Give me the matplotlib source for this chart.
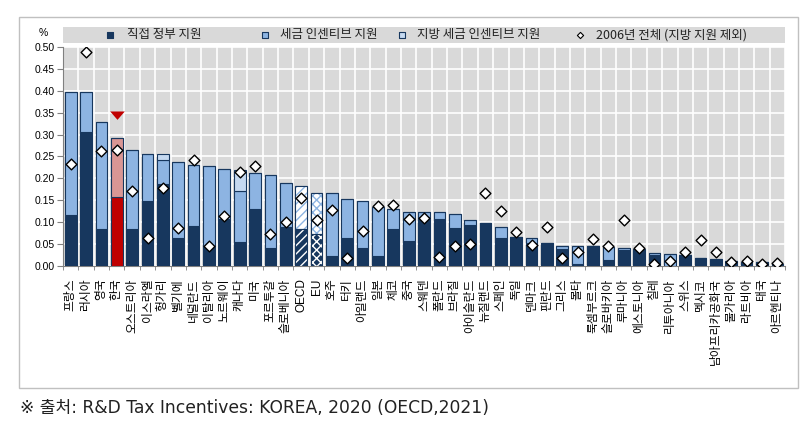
import numpy as np
import matplotlib
matplotlib.use("Agg")
import matplotlib.pyplot as plt
from matplotlib.patches import Rectangle

plt.rcParams['font.family'] = ['Liberation Sans', 'Noto Sans CJK KR', 'DejaVu Sans']
plt.rcParams['hatch.linewidth'] = 1.0

countries = ['프랑스', '러시아', '영국', '한국', '오스트리아', '이스라엘', '헝가리', '벨기에',
             '네덜란드', '이탈리아', '노르웨이', '캐나다', '미국', '포르투갈', '슬로베니아',
             'OECD', 'EU', '호주', '터키', '아일랜드', '일본', '체코', '중국', '스웨덴',
             '폴란드', '브라질', '아이슬란드', '뉴질랜드', '스페인', '독일', '덴마크', '핀란드',
             '그리스', '몰타', '룩셈부르크', '슬로바키아', '루마니아', '에스토니아', '칠레',
             '리투아니아', '스위스', '멕시코', '남아프리카공화국', '불가리아', '라트비아',
             '태국', '아르헨티나']

# % of GDP
direct = [0.116, 0.307, 0.083, 0.158, 0.083, 0.148, 0.186, 0.064, 0.091, 0.044,
          0.106, 0.055, 0.130, 0.041, 0.089, 0.084, 0.073, 0.023, 0.063, 0.040,
          0.022, 0.083, 0.057, 0.111, 0.108, 0.086, 0.094, 0.097, 0.064, 0.066,
          0.051, 0.053, 0.038, 0.003, 0.044, 0.013, 0.036, 0.038, 0.025, 0.000,
          0.025, 0.017, 0.012, 0.011, 0.009, 0.008, 0.005]
tax = [0.282, 0.091, 0.246, 0.134, 0.182, 0.107, 0.056, 0.174, 0.140, 0.184,
       0.115, 0.115, 0.082, 0.167, 0.100, 0.099, 0.093, 0.143, 0.090, 0.107,
       0.113, 0.047, 0.067, 0.011, 0.014, 0.032, 0.011, 0.000, 0.025, 0.000,
       0.013, 0.000, 0.007, 0.041, 0.000, 0.029, 0.004, 0.000, 0.005, 0.026,
       0.000, 0.000, 0.003, 0.000, 0.000, 0.000, 0.000]
local_tax = [0.0] * 47
local_tax[6] = 0.013   # 헝가리
local_tax[11] = 0.049  # 캐나다
total_2006 = [0.233, 0.489, 0.262, 0.265, 0.170, 0.064, 0.177, 0.087, 0.242, 0.044,
              0.114, 0.215, 0.228, 0.072, 0.101, 0.156, 0.105, 0.128, 0.018, 0.079,
              0.137, 0.139, 0.106, 0.110, 0.021, 0.044, 0.049, 0.167, 0.125, 0.078,
              0.047, 0.089, 0.018, 0.032, 0.061, 0.045, 0.105, 0.040, 0.003, 0.011,
              0.032, 0.059, 0.032, 0.009, 0.010, 0.005, 0.007]

legend_labels = ['직접 정부 지원', '세금 인센티브 지원', '지방 세금 인센티브 지원',
                 '2006년 전체 (지방 지원 제외)']

navy = '#17375e'
light = '#8db4e2'
lighter = '#c5d9f1'
red = '#c00000'
pink = '#d99694'

direct = np.array(direct)
tax = np.array(tax)
local_tax = np.array(local_tax)
x = np.arange(len(countries))
w = 0.76

fig = plt.figure(figsize=(8.09, 4.26), dpi=100)
ax = fig.add_axes([0.0779, 0.3763, 0.8925, 0.5127])
ax.set_facecolor('#d9d9d9')

c_dir = [navy] * len(x)
c_tax = [light] * len(x)
kor = countries.index('한국')
c_dir[kor] = red
c_tax[kor] = pink

plain = [i for i in x if countries[i] not in ('OECD', 'EU')]
ax.bar(x[plain], direct[plain], w, color=[c_dir[i] for i in plain], edgecolor=navy, lw=0.8, zorder=3)
ax.bar(x[plain], tax[plain], w, bottom=direct[plain], color=[c_tax[i] for i in plain],
       edgecolor=navy, lw=0.8, zorder=3)
ax.bar(x, local_tax, w, bottom=direct + tax, color=lighter, edgecolor=navy, lw=0.8, zorder=3)

# OECD / EU averages with patterns
for name, hp in (('OECD', '////'), ('EU', 'xxxx')):
    i = countries.index(name)
    ax.bar(i, direct[i], w, color=navy, edgecolor='white', hatch=hp, lw=0, zorder=3)
    ax.bar(i, tax[i], w, bottom=direct[i], color='white', edgecolor=light, hatch=hp, lw=0, zorder=3)
    ax.bar(i, direct[i], w, fill=False, edgecolor=navy, lw=0.8, zorder=4)
    ax.bar(i, tax[i], w, bottom=direct[i], fill=False, edgecolor=navy, lw=0.8, zorder=4)

ax.scatter(x, total_2006, marker='D', s=30, facecolor='white', edgecolor='black', lw=1.0, zorder=5)
# red pointer above Korea
tri = [(-1, 0.55), (1, 0.55), (0, -0.6), (-1, 0.55)]
ax.scatter([kor], [direct[kor] + tax[kor] + 0.052], marker=tri, s=110, color=red, lw=0, zorder=5)

ax.set_xlim(-0.5, len(x) - 0.5)
ax.set_ylim(0, 0.5)
ax.set_yticks(np.arange(0, 0.501, 0.05))
ax.set_yticklabels(['%.2f' % v for v in np.arange(0, 0.501, 0.05)], fontsize=7.5)
ax.set_xticks(x)
ax.set_xticklabels(countries, rotation=90, fontsize=8.5, va='top', ha='center')
ax.set_xticks(np.arange(-0.5, len(x), 1), minor=True)
ax.tick_params(axis='x', which='major', length=0, pad=9)
ax.tick_params(axis='x', which='minor', length=3, color='#808080')
ax.tick_params(axis='y', length=4, color='#808080', pad=2)
ax.grid(axis='y', color='white', lw=1.2, zorder=1)
ax.grid(axis='x', which='minor', color='white', lw=1.2, zorder=1)
ax.set_axisbelow(True)
for s in ('top', 'right'):
    ax.spines[s].set_visible(False)
for s in ('left', 'bottom'):
    ax.spines[s].set_color('#808080')
    ax.spines[s].set_linewidth(0.8)

ax.text(-0.021, 1.065, '%', transform=ax.transAxes, ha='right', va='center', fontsize=7.5)

# legend band above the plot
ax.add_patch(Rectangle((0, 1.02), 1, 0.073, transform=ax.transAxes, facecolor='#d9d9d9',
                       edgecolor='none', clip_on=False))
ly = 1.0563
mk_x = [(110 - 63) / 722, (265 - 63) / 722, (402 - 63) / 722, (580 - 63) / 722]
tx_x = [(127 - 63) / 722, (280 - 63) / 722, (417 - 63) / 722, (596 - 63) / 722]
styles = [dict(marker='s', s=20, facecolor=navy, edgecolor=navy, lw=0.8),
          dict(marker='s', s=20, facecolor=light, edgecolor=navy, lw=0.8),
          dict(marker='s', s=20, facecolor=lighter, edgecolor=navy, lw=0.8),
          dict(marker='D', s=10, facecolor='white', edgecolor='black', lw=0.8)]
for mx, tx, st, lab in zip(mk_x, tx_x, styles, legend_labels):
    ax.scatter([mx], [ly], transform=ax.transAxes, clip_on=False, zorder=6, **st)
    ax.text(tx, ly, lab, transform=ax.transAxes, ha='left', va='center', fontsize=9,
            family=['Noto Sans CJK KR', 'DejaVu Sans'], color='#222222')

fig.patches.append(Rectangle((19 / 809, 1 - 388 / 426), 779 / 809, 371 / 426, transform=fig.transFigure,
                             fill=False, edgecolor='#c0c0c0', lw=1))
fig.text(20 / 809, 1 - 408 / 426, '※ 출처: R&D Tax Incentives: KOREA, 2020 (OECD,2021)',
         ha='left', va='center', fontsize=12.3, color='#222222',
         family=['DejaVu Sans', 'Noto Sans CJK KR'])

fig.savefig('out.png', dpi=100)
